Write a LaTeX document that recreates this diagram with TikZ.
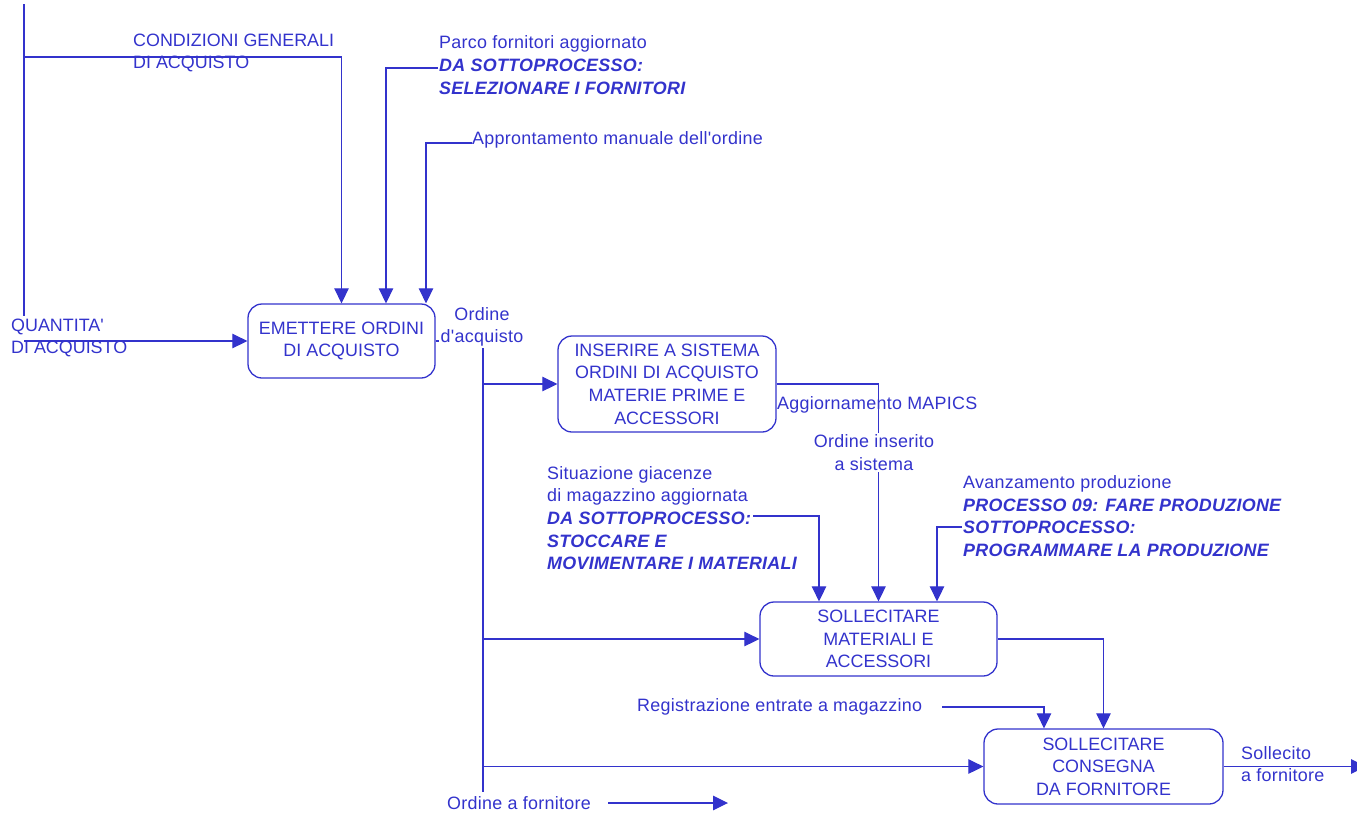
\documentclass[tikz,border=0pt]{standalone}
\usepackage{fontspec}
\setmainfont{Liberation Sans}[Ligatures=TeXOff]
\usetikzlibrary{arrows.meta}
\definecolor{ink}{RGB}{51,51,204}

\begin{document}
\begin{tikzpicture}[x=1pt,y=-1pt,
  every node/.style={font=\fontsize{17.9}{22.6}\selectfont, text=ink, inner sep=0pt},
  proc/.style={draw=ink, line width=1.3pt, rounded corners=14pt, align=center},
  lbl/.style={anchor=west, align=left},
  wide/.style={font=\fontsize{17.9}{22.6}\selectfont\addfontfeature{LetterSpace=1.6}},
  mask/.style={fill=white, inner sep=1.5pt, align=center},
  wire/.style={draw=ink, line width=1.2pt},
  flow/.style={wire, -{Triangle[length=15pt,width=14.5pt]}}]

\clip (0,0) rectangle (1357,812);

% process boxes
\node[proc, minimum width=187pt, minimum height=74pt] (emettere) at (341.5,341)
  {EMETTERE ORDINI\\DI ACQUISTO};
\node[proc, minimum width=218pt, minimum height=96pt] (inserire) at (667,384)
  {INSERIRE A SISTEMA\\ORDINI DI ACQUISTO\\MATERIE PRIME E\\ACCESSORI};
\node[proc, minimum width=237pt, minimum height=74pt] (sollmat) at (878.5,639)
  {SOLLECITARE\\MATERIALI E\\ACCESSORI};
\node[proc, minimum width=239pt, minimum height=75pt] (consegna) at (1103.5,766.5)
  {SOLLECITARE\\CONSEGNA\\DA FORNITORE};

% junction and free-end points
\coordinate (topL)   at (24,4);
\coordinate (quTop)  at (24,316);
\coordinate (condJ)  at (24,57);
\coordinate (quJ)    at (24,341);
\coordinate (parcoJ) at (438,68);
\coordinate (apprJ)  at (472,143);
\coordinate (trunkT) at (483,341);
\coordinate (trunkB) at (483,792);
\coordinate (sitJ)   at (753,516);
\coordinate (avJ)    at (962,527);
\coordinate (regJ)   at (942,707);
\coordinate (outE)   at (1366,766.5);
\coordinate (ofA)    at (608,803);
\coordinate (ofB)    at (728,803);

% inputs and controls of the first process
\draw[wire] (topL) -- (quTop);
\draw[flow] (condJ) -| (emettere.north);
\draw[flow] (parcoJ) -| ([xshift=44.5pt]emettere.north);
\draw[flow] (apprJ) -| ([xshift=84.5pt]emettere.north);
\draw[flow] (quJ) -- (emettere.west);

% purchase-order trunk and its branches
\draw[wire] (emettere.east) -- (trunkT) -- (trunkB);
\draw[flow] (inserire.west -| trunkT) -- (inserire.west);
\draw[flow] (sollmat.west -| trunkT) -- (sollmat.west);
\draw[flow] (consegna.west -| trunkT) -- (consegna.west);

% flows between processes
\draw[flow] (inserire.east) -| (sollmat.north);
\draw[flow] (sitJ) -| ([xshift=-59.5pt]sollmat.north);
\draw[flow] (avJ) -| ([xshift=58.5pt]sollmat.north);
\draw[flow] (sollmat.east) -| (consegna.north);
\draw[flow] (regJ) -| ([xshift=-59.5pt]consegna.north);
\draw[flow] (consegna.east) -- (outE);
\draw[flow] (ofA) -- (ofB);

% labels
\node[lbl] (cond) at (133,53) {CONDIZIONI GENERALI\\DI ACQUISTO};
\node[lbl, wide] (parco) at (439,65) {Parco fornitori aggiornato\\
  {\bfseries\itshape DA SOTTOPROCESSO:}\\{\bfseries\itshape SELEZIONARE I FORNITORI}};
\node[lbl, wide] (appr) at (472,140) {Approntamento manuale dell'ordine};
\node[lbl] (quant) at (11,338) {QUANTITA'\\DI ACQUISTO};
\node[mask, wide] (ordacq) at (482,327) {Ordine\\d'acquisto};
\node[lbl, wide] (aggmap) at (777,405) {Aggiornamento MAPICS};
\node[mask, wide] (ordins) at (874,452.5) {Ordine inserito\\a sistema};
\node[lbl, wide] (situaz) at (547,518) {Situazione giacenze\\di magazzino aggiornata\\
  {\bfseries\itshape DA SOTTOPROCESSO:}\\{\bfseries\itshape STOCCARE E}\\
  {\bfseries\itshape MOVIMENTARE I MATERIALI}};
\node[lbl, wide] (avanz) at (963,516) {Avanzamento produzione\\
  {\bfseries\itshape PROCESSO 09: FARE PRODUZIONE}\\{\bfseries\itshape SOTTOPROCESSO:}\\
  {\bfseries\itshape PROGRAMMARE LA PRODUZIONE}};
\node[lbl, wide] (registr) at (637,707) {Registrazione entrate a magazzino};
\node[lbl, wide] (sollecito) at (1241,764) {Sollecito\\a fornitore};
\node[lbl, wide] (ordforn) at (447,803) {Ordine a fornitore};
\end{tikzpicture}
\end{document}
